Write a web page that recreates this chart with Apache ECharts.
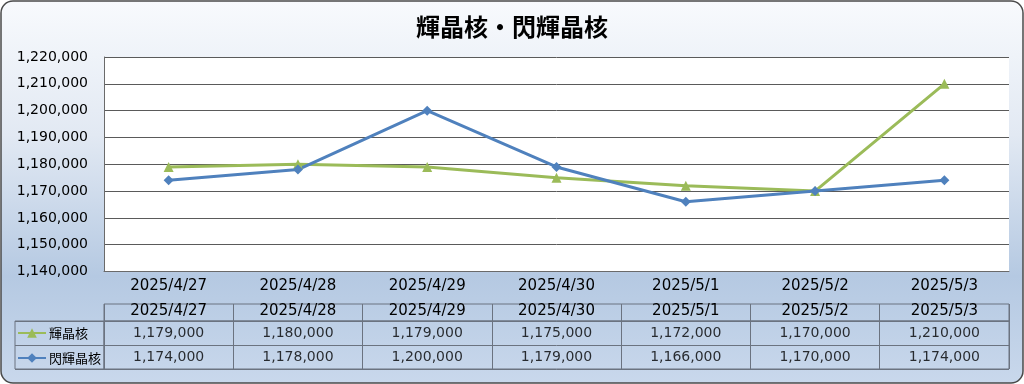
<!DOCTYPE html>
<html><head><meta charset="utf-8">
<script src="https://cdn.jsdelivr.net/npm/echarts@6/dist/echarts.min.js"></script>
<style>html,body{margin:0;padding:0;background:#fff}#c{width:1024px;height:384px}</style>
</head><body><div id="c"></div>
<script>
const categories = ['2025/4/27','2025/4/28','2025/4/29','2025/4/30','2025/5/1','2025/5/2','2025/5/3'];
const seriesNames = ['輝晶核','閃輝晶核'];
const kishoukaku = [1179000,1180000,1179000,1175000,1172000,1170000,1210000];
const senkishoukaku = [1174000,1178000,1200000,1179000,1166000,1170000,1174000];
const titleText = '輝晶核・閃輝晶核';

const fmt = v => v.toLocaleString('en-US');
const FONT = 'DejaVu Sans, Noto Sans CJK JP, sans-serif';
const JFONT = 'Noto Sans CJK JP, sans-serif';
const TBL = '#6b7380';

const tableData = [];
[kishoukaku, senkishoukaku].forEach((arr, r) => {
  arr.forEach((v, i) => tableData.push([categories[i], seriesNames[r], v]));
});

const chart = echarts.init(document.getElementById('c'), null, {renderer:'canvas'});
chart.setOption({
  animation:false,
  title:{text:titleText,left:'center',top:10,textStyle:{fontFamily:JFONT,fontSize:24,fontWeight:'bold',color:'#000'}},
  graphic:[{type:'rect',z:-100,silent:true,shape:{x:1,y:1,width:1022,height:382,r:12},
    style:{fill:new echarts.graphic.LinearGradient(0,0,0,1,[
      {offset:0,color:'#f8fafd'},{offset:0.35,color:'#e2e9f3'},{offset:0.72,color:'#b5c9e2'},{offset:1,color:'#c9d8ec'}]),
      stroke:'#4a4a4a',lineWidth:1.5}}],
  legend:{orient:'vertical',left:17,top:326.5,padding:0,itemWidth:28,itemHeight:12,itemGap:12,
    data:seriesNames,textStyle:{fontFamily:JFONT,fontSize:13,color:'#000',padding:[0,0,0,-2]}},
  grid:[
    {left:104,right:15,top:57,height:214.5,show:true,backgroundColor:'#fff',borderWidth:0},
    {left:104,right:15,top:304,height:17,show:true,backgroundColor:'transparent',borderColor:TBL,borderWidth:1},
    {left:104,right:15,top:321,height:48,show:true,backgroundColor:'transparent',borderColor:TBL,borderWidth:1},
    {left:15,width:89,top:321,height:48,show:true,backgroundColor:'transparent',borderColor:TBL,borderWidth:1}
  ],
  xAxis:[
    {gridIndex:0,type:'category',data:categories,boundaryGap:true,
      axisLine:{show:true,lineStyle:{color:'#6a6a6a',width:1}},axisTick:{show:false},
      axisLabel:{margin:7,fontFamily:FONT,fontSize:15,color:'#000',interval:0}},
    {gridIndex:1,type:'category',data:categories,axisLine:{show:false},axisTick:{show:false},
      splitLine:{show:true,interval:0,lineStyle:{color:TBL,width:1}},
      axisLabel:{margin:-10,verticalAlign:'middle',fontFamily:FONT,fontSize:15,color:'#000',interval:0}},
    {gridIndex:2,type:'category',data:categories,axisLine:{show:false},axisTick:{show:false},
      splitLine:{show:true,interval:0,lineStyle:{color:TBL,width:1}},axisLabel:{show:false}},
    {gridIndex:3,type:'value',show:false}
  ],
  yAxis:[
    {gridIndex:0,type:'value',min:1140000,max:1220000,interval:10000,
      axisLine:{show:true,lineStyle:{color:'#6a6a6a',width:1}},axisTick:{show:false},
      splitLine:{show:true,lineStyle:{color:'#5a5a5a',width:1}},
      axisLabel:{margin:16,fontFamily:FONT,fontSize:14,color:'#000',formatter:v=>fmt(v)}},
    {gridIndex:1,type:'value',show:false},
    {gridIndex:2,type:'category',data:seriesNames,inverse:true,axisLine:{show:false},axisTick:{show:false},
      axisLabel:{show:false},splitLine:{show:true,interval:0,lineStyle:{color:TBL,width:1}}},
    {gridIndex:3,type:'category',data:seriesNames,inverse:true,axisLine:{show:false},axisTick:{show:false},
      axisLabel:{show:false},splitLine:{show:true,interval:0,lineStyle:{color:TBL,width:1}}}
  ],
  series:[
    {name:seriesNames[0],type:'line',xAxisIndex:0,yAxisIndex:0,data:kishoukaku,
      symbol:'triangle',symbolSize:10,showAllSymbol:true,
      lineStyle:{color:'#9bbb59',width:3},itemStyle:{color:'#9bbb59'}},
    {name:seriesNames[1],type:'line',xAxisIndex:0,yAxisIndex:0,data:senkishoukaku,
      symbol:'diamond',symbolSize:10,showAllSymbol:true,
      lineStyle:{color:'#4f81bd',width:3},itemStyle:{color:'#4f81bd'}},
    {type:'scatter',xAxisIndex:2,yAxisIndex:2,data:tableData,symbolSize:0,silent:true,
      label:{show:true,position:'inside',formatter:p=>fmt(p.value[2]),fontFamily:FONT,fontSize:14,color:'#000'}}
  ]
});
</script></body></html>
